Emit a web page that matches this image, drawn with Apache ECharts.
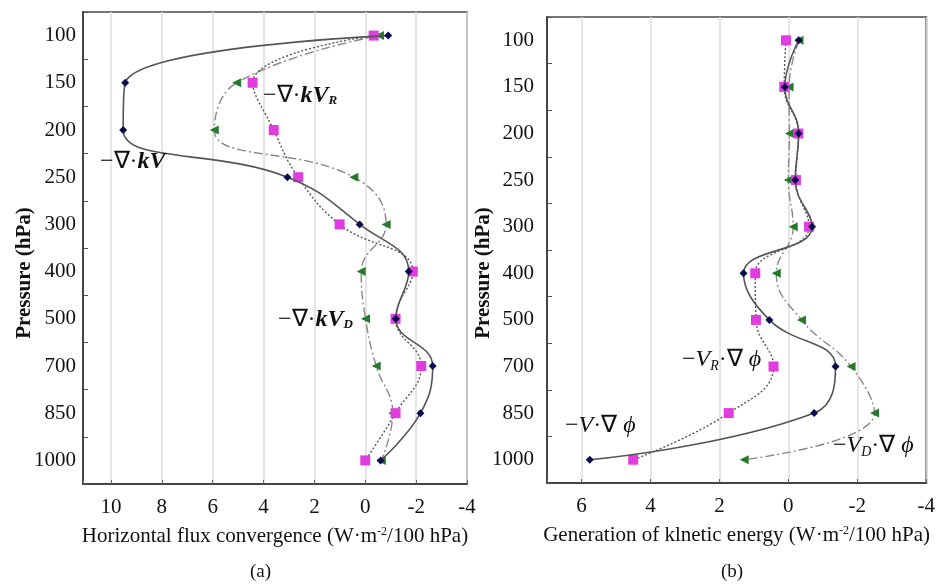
<!DOCTYPE html>
<html>
<head>
<meta charset="utf-8">
<script src="https://cdn.jsdelivr.net/npm/echarts@6/dist/echarts.min.js"></script>
<style>html,body{margin:0;padding:0;background:#fff}#c{width:938px;height:587px}</style>
</head>
<body>
<div id="c"></div>
<script>
// Pressure levels (hPa)
var pressure = ['100','150','200','250','300','400','500','700','850','1000'];
// (a) Horizontal flux convergence (W·m-2/100 hPa)
var aTotal = [-0.9, 9.44, 9.52, 3.06, 0.22, -1.71, -1.2, -2.65, -2.17, -0.6];
var aRot   = [-0.33, 4.43, 3.6, 2.64, 1.01, -1.87, -1.19, -2.2, -1.19, 0];
var aDiv   = [-0.56, 5.06, 5.94, 0.45, -0.82, 0.16, -0.01, -0.43, -1.08, -0.63];
// (b) Generation of kinetic energy (W·m-2/100 hPa)
var bTotal = [-0.3, 0.1, -0.3, -0.2, -0.69, 1.3, 0.55, -1.37, -0.75, 5.76];
var bRot   = [0.07, 0.12, -0.29, -0.22, -0.6, 0.96, 0.94, 0.43, 1.73, 4.5];
var bDiv   = [-0.31, -0.02, -0.03, 0, -0.14, 0.35, -0.38, -1.82, -2.5, 1.28];

var serif = '"Liberation Serif","Times New Roman",serif';
var chart = echarts.init(document.getElementById('c'));

function xAx(idx, min, max, name) {
  return {
    gridIndex: idx, type: 'value', inverse: true, min: min, max: max, interval: 2,
    name: name, nameLocation: 'middle', nameGap: 42,
    nameTextStyle: {fontFamily: serif, fontSize: 21, color: '#111',
      rich: {sup: {fontFamily: serif, fontSize: 12, color: '#111', verticalAlign: 'top', padding: [0,0,9,0]}}},
    axisLine: {show: true, onZero: false, lineStyle: {color: '#444', width: 2}},
    axisTick: {show: true, inside: true, length: 4, lineStyle: {color: '#666'}},
    axisLabel: {fontFamily: serif, fontSize: 21, color: '#111', margin: 13,
      formatter: function (v) { return (Math.abs(v % 2) < 1e-9) ? String(v) : ''; }},
    splitLine: {show: true, lineStyle: {color: '#dcdcdc', width: 1.5}}
  };
}
function yAx(idx, margin) {
  return {
    gridIndex: idx, type: 'category', inverse: true, data: pressure, boundaryGap: true,
    axisLine: {show: true, onZero: false, lineStyle: {color: '#444', width: 2}},
    axisTick: {show: true, inside: true, length: 5, lineStyle: {color: '#555'}},
    axisLabel: {fontFamily: serif, fontSize: 21, color: '#111', margin: margin},
    splitLine: {show: false}
  };
}
function ser(idx, data, kind) {
  var s = {type: 'line', xAxisIndex: idx, yAxisIndex: idx, smooth: 0.45, data: data, z: 3};
  if (kind === 'total') {
    s.symbol = 'diamond'; s.symbolSize = 8; s.itemStyle = {color: '#0b0b4d'};
    s.lineStyle = {color: '#555', width: 1.6, type: 'solid'}; s.z = 5;
  } else if (kind === 'rot') {
    s.symbol = 'rect'; s.symbolSize = 10; s.itemStyle = {color: '#e03ce0'};
    s.lineStyle = {color: '#555', width: 1.4, type: [2, 2]}; s.z = 4;
  } else {
    s.symbol = 'triangle'; s.symbolRotate = 90; s.symbolSize = 9; s.itemStyle = {color: '#237a2a'};
    s.lineStyle = {color: '#888', width: 1.4, type: [9, 3, 2, 3]}; s.z = 3;
  }
  return s;
}

var it = {fontFamily: serif, fontSize: 24, fontStyle: 'italic', fill: '#111'};
var itB = {fontFamily: serif, fontSize: 24, fontStyle: 'italic', fontWeight: 'bold', fill: '#111'};
var rg = {fontFamily: serif, fontSize: 24, fill: '#111'};
var subB = {fontFamily: serif, fontSize: 13, fontStyle: 'italic', fontWeight: 'bold', fill: '#111', padding: [10,0,0,0]};
var subI = {fontFamily: serif, fontSize: 14, fontStyle: 'italic', fill: '#111', padding: [12,0,0,0]};
function ann(x, y, text) {
  return {type: 'text', left: x, top: y, z: 10,
    style: {text: text, rich: {r: rg, b: itB, i: it, sb: subB, si: subI}, fill: '#111'}};
}
function yName(x, y) {
  return {type: 'text', x: x, y: y, rotation: Math.PI / 2, z: 10,
    style: {text: 'Pressure (hPa)', align: 'center', verticalAlign: 'middle',
      font: 'bold 21px ' + serif, fill: '#111'}};
}

chart.setOption({
  animation: false,
  backgroundColor: '#fff',
  grid: [
    {left: 83, right: 471, top: 12, bottom: 103, show: true, borderColor: '#777', borderWidth: 2},
    {left: 547, right: 9, top: 17, bottom: 104, show: true, borderColor: '#777', borderWidth: 2}
  ],
  xAxis: [
    xAx(0, -4, 11.1, 'Horizontal flux convergence (W·m{sup|-2}/100 hPa)'),
    xAx(1, -4, 7.0, 'Generation of klnetic energy (W·m{sup|-2}/100 hPa)')
  ],
  yAxis: [yAx(0, 7), yAx(1, 13)],
  series: [
    ser(0, aDiv, 'div'), ser(0, aRot, 'rot'), ser(0, aTotal, 'total'),
    ser(1, bDiv, 'div'), ser(1, bRot, 'rot'), ser(1, bTotal, 'total')
  ],
  graphic: [
    yName(25, 273), yName(484, 273),
    ann(263, 84, '{r|−∇·}{b|kV}{sb|R}'),
    ann(100, 150, '{r|−∇·}{b|kV}'),
    ann(278, 308, '{r|−∇·}{b|kV}{sb|D}'),
    ann(682, 348, '{r|−}{i|V}{si|R}{r|·∇}{i| ϕ}'),
    ann(565, 414, '{r|−}{i|V}{r|·∇}{i| ϕ}'),
    ann(833, 434, '{r|−}{i|V}{si|D}{r|·∇}{i| ϕ}'),
    {type: 'text', left: 250, top: 563, style: {text: '(a)', font: '19px ' + serif, fill: '#111'}},
    {type: 'text', left: 721, top: 563, style: {text: '(b)', font: '19px ' + serif, fill: '#111'}}
  ]
});
</script>
</body>
</html>
